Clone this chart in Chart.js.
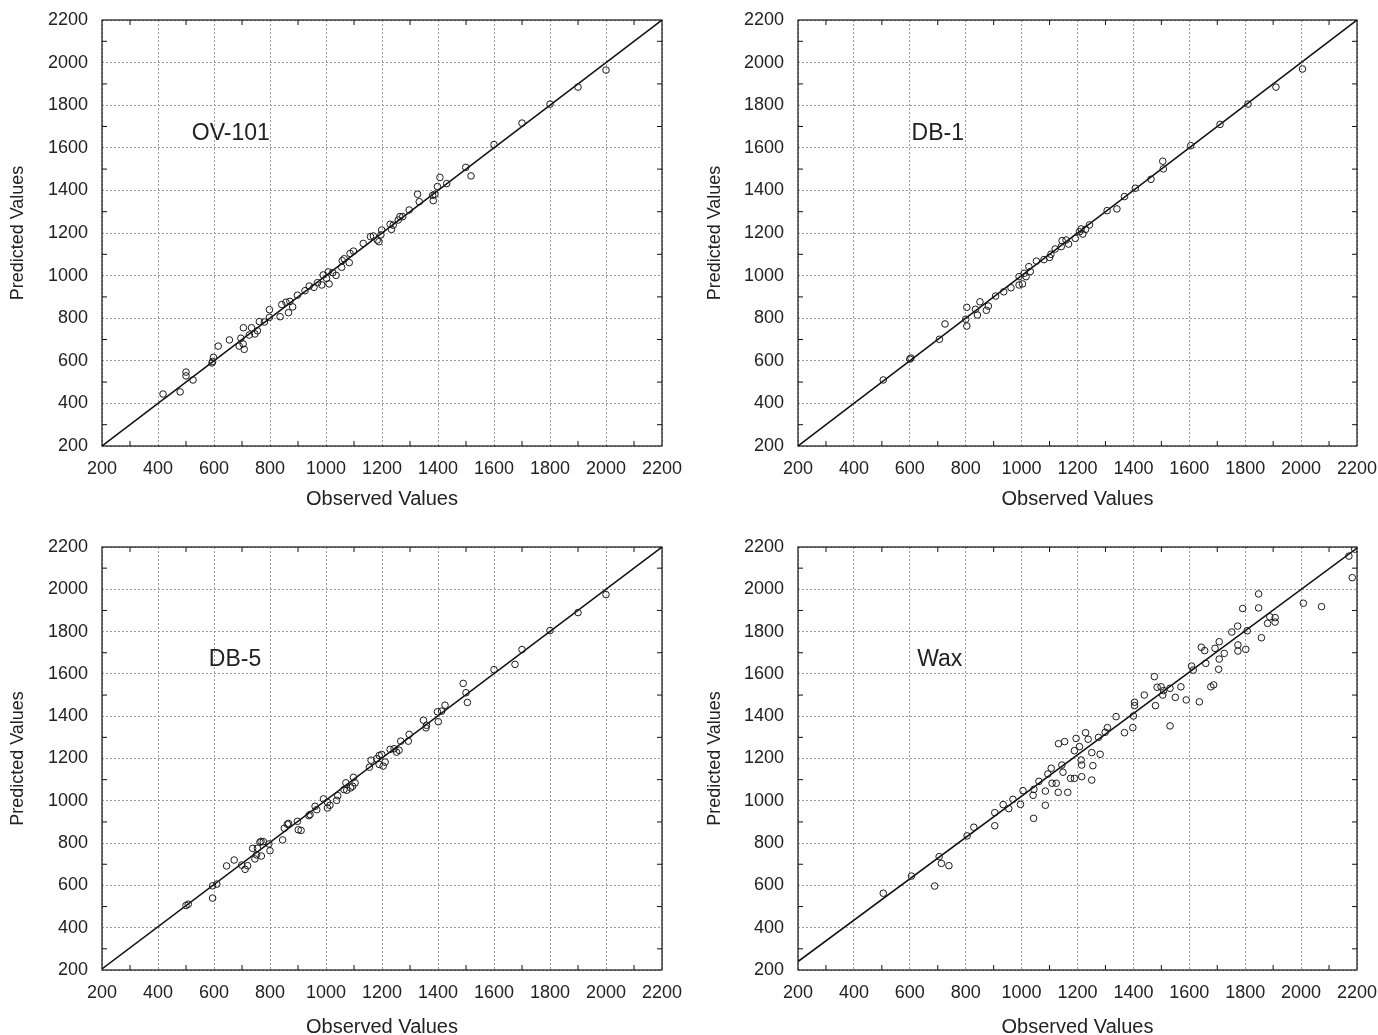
<!DOCTYPE html>
<html>
<head>
<meta charset="utf-8">
<script src="https://cdn.jsdelivr.net/npm/chart.js@4.4.1/dist/chart.umd.min.js"></script>
<style>
  html, body { margin: 0; padding: 0; background: #fff; overflow: hidden; }
  body { width: 1378px; height: 1035px; position: relative; }
  canvas { position: absolute; }
</style>
</head>
<body>
<canvas id="c1" width="689" height="530" style="left:0;top:0"></canvas>
<canvas id="c2" width="689" height="530" style="left:689px;top:0"></canvas>
<canvas id="c3" width="689" height="530" style="left:0;top:510px"></canvas>
<canvas id="c4" width="689" height="530" style="left:689px;top:510px"></canvas>
<script>
// axis ticks (same for both axes in every panel)
const tickValues = [200, 400, 600, 800, 1000, 1200, 1400, 1600, 1800, 2000, 2200];

// OV-101
const ov101Obs = [418, 500, 500, 479, 525, 593, 595, 598, 615, 655, 690, 704, 708, 696, 705, 726, 734, 746, 755, 762,
  780, 798, 798, 836, 842, 857, 866, 881, 871, 898, 925, 940, 957, 970, 985, 990, 1002, 1011, 1008, 1024,
  1036, 1056, 1058, 1065, 1083, 1086, 1098, 1133, 1159, 1169, 1183, 1189, 1199, 1196, 1229, 1234, 1240, 1258, 1264, 1274,
  1297, 1327, 1333, 1381, 1383, 1389, 1398, 1407, 1431, 1499, 1518, 1600, 1700, 1800, 1900, 2000];
const ov101Pred = [444, 547, 529, 454, 510, 590, 597, 616, 669, 698, 669, 679, 654, 706, 755, 721, 755, 726, 741, 784,
  782, 804, 840, 807, 864, 875, 826, 853, 879, 908, 929, 951, 945, 967, 956, 1003, 987, 961, 1017, 1014,
  1001, 1039, 1070, 1079, 1061, 1104, 1115, 1151, 1183, 1186, 1167, 1159, 1214, 1191, 1241, 1217, 1237, 1261, 1277, 1277,
  1308, 1382, 1347, 1377, 1352, 1382, 1418, 1461, 1432, 1508, 1468, 1615, 1716, 1805, 1885, 1965];

// DB-1
const db1Obs = [505, 600, 604, 706, 726, 804, 800, 804, 835, 842, 851, 874, 881, 907, 936, 962, 991, 991, 1003, 1009,
  1016, 1026, 1031, 1053, 1080, 1100, 1105, 1120, 1142, 1145, 1159, 1168, 1192, 1207, 1213, 1219, 1229, 1243,
  1306, 1341, 1368, 1407, 1463, 1507, 1505, 1605, 1710, 1810, 1910, 2005];
const db1Pred = [510, 608, 613, 701, 773, 851, 795, 763, 842, 815, 877, 837, 857, 904, 924, 943, 995, 956, 961, 1011,
  995, 1042, 1019, 1068, 1075, 1085, 1100, 1125, 1136, 1164, 1167, 1148, 1175, 1206, 1219, 1195, 1217, 1238,
  1305, 1313, 1371, 1410, 1452, 1501, 1537, 1610, 1710, 1805, 1885, 1970];

// DB-5
const db5Obs = [500, 508, 595, 610, 595, 645, 672, 699, 711, 720, 738, 746, 752, 764, 769, 776, 800, 796, 755, 768,
  845, 851, 862, 866, 898, 901, 911, 939, 943, 961, 967, 991, 1005, 1005, 1014, 1038, 1042, 1071, 1064, 1074,
  1088, 1098, 1104, 1095, 1155, 1161, 1181, 1190, 1199, 1190, 1204, 1211, 1229, 1243, 1252, 1261, 1267, 1294, 1297, 1348,
  1357, 1359, 1398, 1401, 1413, 1425, 1490, 1500, 1505, 1600, 1675, 1700, 1800, 1900, 2000];
const db5Pred = [505, 511, 598, 606, 540, 692, 720, 696, 676, 693, 775, 725, 744, 804, 739, 807, 764, 796, 776, 808,
  815, 870, 889, 893, 903, 863, 860, 930, 935, 974, 958, 1009, 993, 966, 979, 1002, 1024, 1085, 1053, 1050,
  1061, 1111, 1085, 1069, 1159, 1192, 1199, 1214, 1219, 1172, 1164, 1183, 1243, 1246, 1230, 1239, 1282, 1282, 1314, 1381,
  1345, 1357, 1421, 1374, 1424, 1452, 1555, 1511, 1465, 1620, 1645, 1715, 1805, 1890, 1975];

// Wax
const waxObs = [505, 606, 689, 705, 713, 740, 805, 829, 904, 904, 934, 954, 969, 996, 1005, 1043, 1041, 1044, 1062, 1085,
  1085, 1094, 1106, 1109, 1124, 1131, 1132, 1144, 1148, 1154, 1165, 1175, 1189, 1189, 1195, 1207, 1213, 1215, 1215, 1229,
  1238, 1251, 1251, 1255, 1275, 1281, 1299, 1307, 1338, 1368, 1398, 1400, 1404, 1404, 1439, 1475, 1479, 1485, 1499, 1505,
  1508, 1531, 1531, 1550, 1570, 1589, 1636, 1608, 1614, 1643, 1655, 1659, 1677, 1687, 1692, 1707, 1707, 1705, 1725, 1752,
  1773, 1774, 1774, 1791, 1802, 1807, 1848, 1848, 1858, 1880, 1888, 1907, 1907, 2008, 2073, 2171, 2192, 2183];
const waxPred = [563, 644, 597, 736, 704, 693, 834, 875, 882, 944, 982, 963, 1007, 983, 1048, 917, 1026, 1054, 1092, 979,
  1046, 1127, 1154, 1083, 1083, 1040, 1270, 1169, 1135, 1280, 1040, 1106, 1106, 1237, 1295, 1256, 1193, 1169, 1114, 1322,
  1291, 1228, 1098, 1166, 1300, 1220, 1324, 1346, 1398, 1322, 1346, 1401, 1450, 1466, 1500, 1587, 1450, 1537, 1539, 1500,
  1521, 1532, 1354, 1489, 1539, 1477, 1468, 1637, 1618, 1726, 1710, 1650, 1539, 1548, 1721, 1752, 1670, 1622, 1697, 1798,
  1826, 1708, 1737, 1909, 1716, 1804, 1978, 1912, 1771, 1839, 1870, 1866, 1845, 1934, 1918, 2157, 2190, 2055];

// fitted lines (end points)
const fitObs = [200, 2200];
const ov101Fit = [200, 2200];
const db1Fit = [200, 2200];
const db5Fit = [205, 2200];
const waxFit = [240, 2195];

const FONT = "'Liberation Sans', Arial, sans-serif";
const INK = '#222';

const minorTicks = tickValues.slice(1).map((v, i) => (v + tickValues[i]) / 2);

// box around plot area + small inward ticks + panel name
const framePlugin = {
  id: 'frame',
  afterDraw(chart, args, opts) {
    const { ctx, chartArea: a, scales: { x, y } } = chart;
    ctx.save();
    ctx.strokeStyle = '#111';
    ctx.lineWidth = 1.2;
    ctx.strokeRect(a.left, a.top, a.right - a.left, a.bottom - a.top);
    ctx.lineWidth = 1;
    ctx.beginPath();
    minorTicks.forEach(v => {
      const px = x.getPixelForValue(v);
      const py = y.getPixelForValue(v);
      ctx.moveTo(px, a.bottom); ctx.lineTo(px, a.bottom - 5);
      ctx.moveTo(px, a.top); ctx.lineTo(px, a.top + 5);
      ctx.moveTo(a.left, py); ctx.lineTo(a.left + 5, py);
      ctx.moveTo(a.right, py); ctx.lineTo(a.right - 5, py);
    });
    ctx.stroke();
    ctx.fillStyle = INK;
    ctx.font = '23px ' + FONT;
    ctx.textAlign = 'center';
    ctx.textBaseline = 'middle';
    ctx.fillText(opts.text, x.getPixelForValue(opts.x), y.getPixelForValue(opts.y));
    ctx.restore();
  }
};

function noPad(s) {
  s.paddingTop = 0; s.paddingBottom = 0; s.paddingLeft = 0; s.paddingRight = 0;
}

function makePanel(id, obs, pred, fit, name, nameX, nameY, box) {
  const W = 689, H = 530;
  return new Chart(document.getElementById(id), {
    type: 'scatter',
    data: {
      datasets: [
        {
          data: obs.map((v, i) => ({ x: v, y: pred[i] })),
          pointRadius: 3.3,
          pointHoverRadius: 3.3,
          pointBorderWidth: 1,
          pointBorderColor: '#1a1a1a',
          pointBackgroundColor: 'rgba(0,0,0,0)'
        },
        {
          type: 'line',
          data: fitObs.map((v, i) => ({ x: v, y: fit[i] })),
          borderColor: '#111',
          borderWidth: 1.5,
          pointRadius: 0,
          fill: false
        }
      ]
    },
    options: {
      responsive: false,
      animation: false,
      events: [],
      layout: { padding: { top: box.top, right: W - box.right, left: 0, bottom: 0 } },
      plugins: {
        legend: { display: false },
        tooltip: { enabled: false },
        frame: { text: name, x: nameX, y: nameY }
      },
      scales: {
        x: {
          type: 'linear',
          min: tickValues[0],
          max: tickValues[tickValues.length - 1],
          afterBuildTicks: s => { s.ticks = tickValues.map(v => ({ value: v })); },
          afterFit: s => { s.height = H - box.bottom; noPad(s); },
          grid: { color: '#9a9a9a', lineWidth: 1, drawTicks: false },
          border: { display: false, dash: [2, 2] },
          ticks: {
            color: INK, padding: 12, font: { size: 18, family: FONT }, maxRotation: 0,
            callback: v => String(v)
          },
          title: {
            display: true, text: 'Observed Values', color: INK,
            font: { size: 20, family: FONT },
            padding: { top: 0, bottom: H - box.xTitle - 12 }
          }
        },
        y: {
          type: 'linear',
          min: tickValues[0],
          max: tickValues[tickValues.length - 1],
          afterBuildTicks: s => { s.ticks = tickValues.map(v => ({ value: v })); },
          afterFit: s => { s.width = box.left; noPad(s); },
          grid: { color: '#9a9a9a', lineWidth: 1, drawTicks: false },
          border: { display: false, dash: [2, 2] },
          ticks: {
            color: INK, padding: 14, font: { size: 18, family: FONT },
            callback: v => String(v)
          },
          title: {
            display: true, text: 'Predicted Values', color: INK,
            font: { size: 18, family: FONT },
            padding: { top: box.yTitle - 10.8, bottom: 0 }
          }
        }
      }
    },
    plugins: [framePlugin]
  });
}

makePanel('c1', ov101Obs, ov101Pred, ov101Fit, 'OV-101', 660, 1665,
  { left: 102, top: 20, right: 662, bottom: 446, xTitle: 499, yTitle: 18 });
makePanel('c2', db1Obs, db1Pred, db1Fit, 'DB-1', 700, 1665,
  { left: 109, top: 20, right: 668, bottom: 446, xTitle: 499, yTitle: 26 });
makePanel('c3', db5Obs, db5Pred, db5Fit, 'DB-5', 675, 1669,
  { left: 102, top: 37, right: 662, bottom: 460, xTitle: 517, yTitle: 18 });
makePanel('c4', waxObs, waxPred, waxFit, 'Wax', 707, 1669,
  { left: 109, top: 37, right: 668, bottom: 460, xTitle: 517, yTitle: 26 });
</script>
</body>
</html>
